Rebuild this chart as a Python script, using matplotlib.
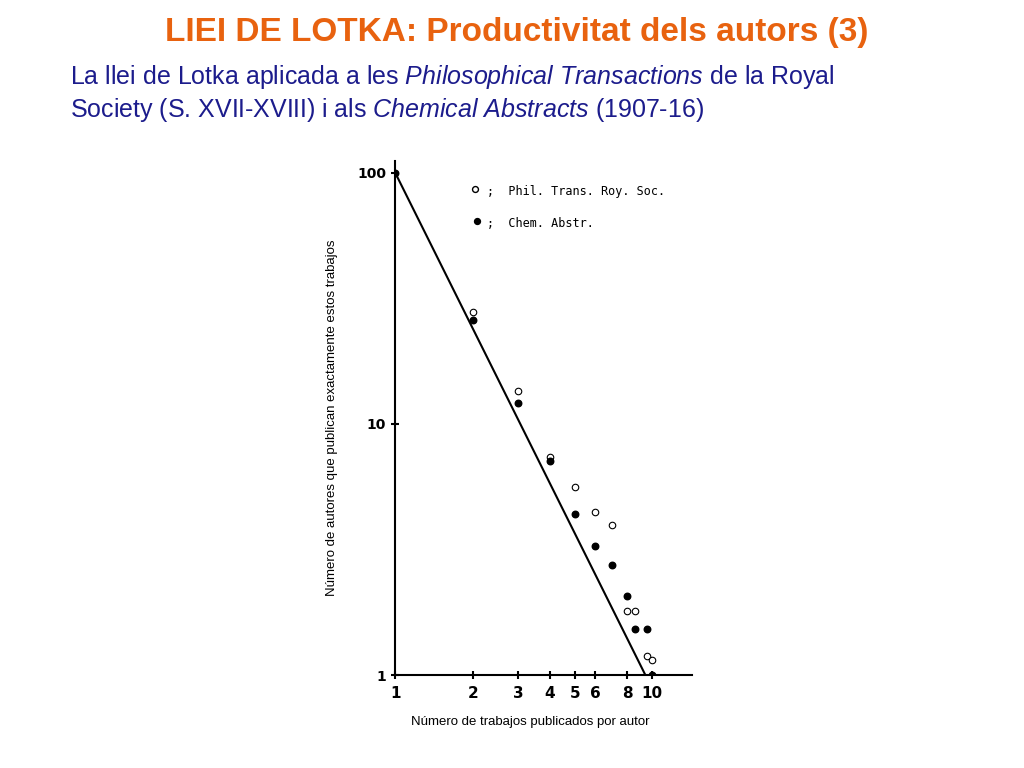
import matplotlib
matplotlib.use("Agg")
import matplotlib.pyplot as plt
from matplotlib.ticker import FixedLocator, NullLocator

plt.rcParams["mathtext.fontset"] = "custom"
plt.rcParams["mathtext.it"] = "Liberation Sans:italic"
plt.rcParams["mathtext.rm"] = "Liberation Sans"

phil_x = [2, 3, 4, 5, 6, 7, 8, 8.6, 9.5, 10]
phil_y = [27.9, 13.5, 7.4, 5.6, 4.46, 3.96, 1.8, 1.8, 1.19, 1.15]
chem_x = [1, 2, 3, 4, 5, 6, 7, 8, 8.6, 9.5, 10]
chem_y = [100, 26, 12.1, 7.1, 4.38, 3.27, 2.74, 2.06, 1.52, 1.52, 1.0]
line_x = [1, 9.4]
line_y = [100, 1]
x_ticks = [1, 2, 3, 4, 5, 6, 8, 10]
y_ticks = [1, 10, 100]

fig = plt.figure(figsize=(10.24, 7.68), dpi=100)
fig.text(0.505, 0.958, "LIEI DE LOTKA: Productivitat dels autors (3)", ha="center", va="center",
         fontsize=24, fontweight="bold", color="#E8620F", family="Liberation Sans")
fig.text(0.068, 0.9, "La llei de Lotka aplicada a les $\\mathit{Philosophical\\ Transactions}$ de la Royal",
         fontsize=18, color="#1C1C8C", family="Liberation Sans", va="center")
fig.text(0.068, 0.857, "Society (S. XVII-XVIII) i als $\\mathit{Chemical\\ Abstracts}$ (1907-16)",
         fontsize=18, color="#1C1C8C", family="Liberation Sans", va="center")

ax = fig.add_axes([0.386, 0.121, 0.29, 0.67])
ax.set_xscale("log"); ax.set_yscale("log")
ax.set_xlim(1, 14.3); ax.set_ylim(1, 112)
ax.plot(line_x, line_y, color="black", lw=1.5)
ax.scatter(phil_x, phil_y, s=22, facecolors="white", edgecolors="black", linewidths=0.8, zorder=3)
ax.scatter(chem_x, chem_y, s=22, color="black", zorder=3)
for s in ["top", "right"]:
    ax.spines[s].set_visible(False)
for s in ["left", "bottom"]:
    ax.spines[s].set_linewidth(1.5)
ax.xaxis.set_major_locator(FixedLocator(x_ticks)); ax.xaxis.set_minor_locator(NullLocator())
ax.yaxis.set_major_locator(FixedLocator(y_ticks)); ax.yaxis.set_minor_locator(NullLocator())
ax.set_xticklabels([str(v) for v in x_ticks], fontweight="bold", fontsize=11)
ax.set_yticklabels([str(v) for v in y_ticks], fontweight="bold", fontsize=10)
ax.tick_params(direction="inout", length=6, width=1.5)
ax.tick_params(axis="x", pad=5)
ax.set_ylabel("Número de autores que publican exactamente estos trabajos", fontsize=9.5,
              family="Liberation Sans", labelpad=14)
fig.text(0.518, 0.06, "Número de trabajos publicados por autor", fontsize=9.5,
         family="Liberation Sans", ha="center", va="center")

ax.scatter([0.27], [0.945], s=18, facecolors="white", edgecolors="black", transform=ax.transAxes, clip_on=False)
ax.scatter([0.275], [0.883], s=18, color="black", transform=ax.transAxes, clip_on=False)
ax.text(0.31, 0.94, ";  Phil. Trans. Roy. Soc.", transform=ax.transAxes, fontsize=8.5, va="center", family="DejaVu Sans Mono")
ax.text(0.31, 0.878, ";  Chem. Abstr.", transform=ax.transAxes, fontsize=8.5, va="center", family="DejaVu Sans Mono")

fig.savefig("out.png", dpi=100)
